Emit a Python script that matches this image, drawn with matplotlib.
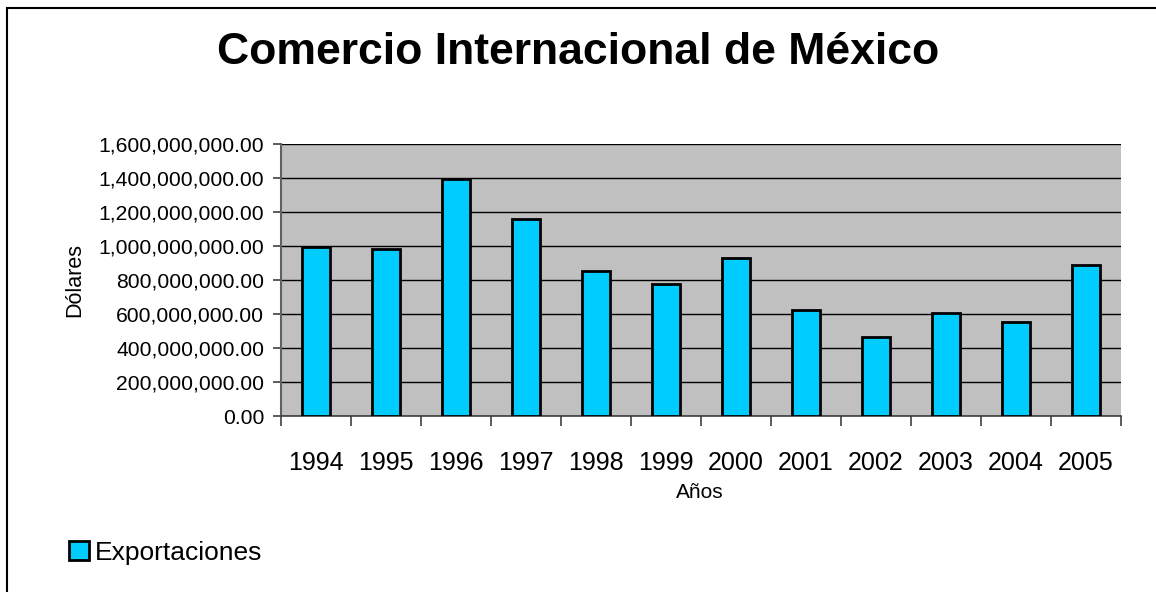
import matplotlib.pyplot as plt
import matplotlib as mpl
from matplotlib.patches import Rectangle
from matplotlib.ticker import FuncFormatter, FixedLocator
import numpy as np

mpl.rcParams['font.family'] = ['Liberation Sans', 'DejaVu Sans']

years = ["1994", "1995", "1996", "1997", "1998", "1999",
         "2000", "2001", "2002", "2003", "2004", "2005"]
exportaciones = [995e6, 980e6, 1392e6, 1157e6, 851e6, 776e6,
                 931e6, 622e6, 467e6, 608e6, 553e6, 890e6]


def plot_chart():
    fig = plt.figure(figsize=(11.56, 5.92), dpi=100)
    ax = fig.add_axes([281 / 1156, 1 - 416 / 592, 840 / 1156, 272 / 592])

    # outer chart border (only top/left visible in the original)
    fig.patches.append(Rectangle((7 / 1156, -0.1), 1.2, 1 - 8 / 592 + 0.1,
                                 transform=fig.transFigure, fill=False,
                                 edgecolor='black', linewidth=1.5))

    x = np.arange(len(years))
    ax.set_facecolor('#C0C0C0')
    ax.yaxis.grid(True, color='black', linewidth=1.0)
    ax.set_axisbelow(True)
    ax.bar(x, exportaciones, width=0.41, color='#00CCFF', edgecolor='black',
           linewidth=2.0, zorder=3, label='Exportaciones')

    ax.set_xlim(-0.5, len(years) - 0.5)
    ax.set_ylim(0, 1.6e9)
    ax.set_yticks(np.arange(0, 1.6e9 + 1, 2e8))
    ax.yaxis.set_major_formatter(FuncFormatter(lambda v, p: f"{v:,.2f}"))

    # category boundaries get the tick marks, labels sit in between
    ax.xaxis.set_major_locator(FixedLocator(np.arange(-0.5, len(years), 1.0)))
    ax.xaxis.set_major_formatter(FuncFormatter(lambda v, p: ""))
    ax.xaxis.set_minor_locator(FixedLocator(x))
    ax.set_xticklabels(years, minor=True)
    ax.tick_params(axis='x', which='major', length=7, width=1.2, color='#404040')
    ax.tick_params(axis='x', which='minor', length=0, pad=25, labelsize=18)
    ax.tick_params(axis='y', length=6, width=1.2, color='#404040', pad=6,
                   labelsize=15.2)

    for side in ['top', 'right']:
        ax.spines[side].set_visible(False)
    ax.spines['left'].set_color('#606060')
    ax.spines['left'].set_linewidth(1.5)
    ax.spines['bottom'].set_color('#404040')
    ax.spines['bottom'].set_linewidth(1.2)

    fig.text(0.5, 1 - 53 / 592, "Comercio Internacional de México",
             ha='center', va='center', fontsize=32, fontweight='bold')
    fig.text(75 / 1156, 1 - 280 / 592, "Dólares", rotation=90,
             ha='center', va='center', fontsize=15.5)
    fig.text(700 / 1156, 1 - 493 / 592, "Años", ha='center', va='center',
             fontsize=15)

    fig.legend(loc='center left', bbox_to_anchor=(45 / 1156, 1 - 553 / 592),
               frameon=False, fontsize=19, handlelength=0.75,
               handleheight=0.75, handletextpad=0.25)

    plt.savefig('out.png', dpi=100)


if __name__ == "__main__":
    plot_chart()
